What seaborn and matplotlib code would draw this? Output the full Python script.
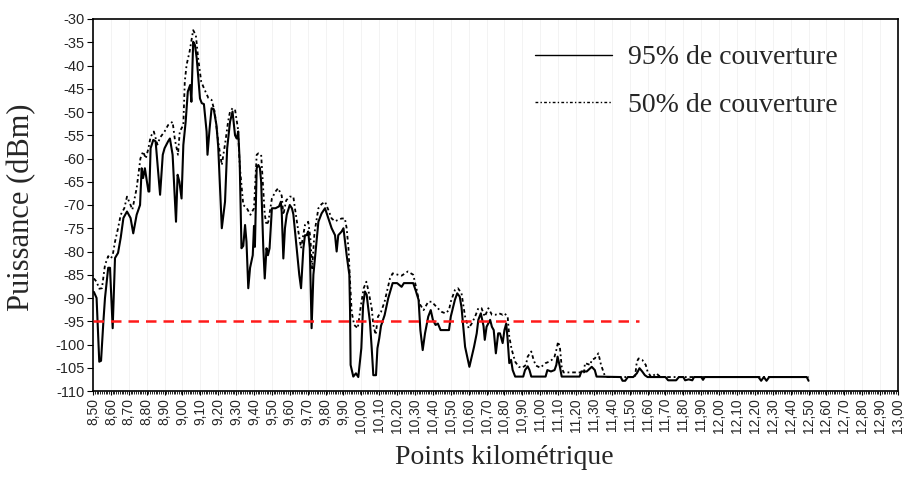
import numpy as np
import pandas as pd
import matplotlib
matplotlib.use("Agg")
import matplotlib.pyplot as plt
import seaborn as sns
from matplotlib.ticker import MultipleLocator, FixedLocator

# ---------------- data ----------------
km_95 = [8.505, 8.52, 8.535, 8.545, 8.558, 8.567, 8.585, 8.595, 8.61, 8.623, 8.64, 8.655, 8.67, 8.69,
         8.71, 8.725, 8.744, 8.763, 8.772, 8.78, 8.79, 8.81, 8.815, 8.822, 8.837, 8.85, 8.875, 8.89,
         8.90, 8.92, 8.93, 8.945, 8.964, 8.973, 8.983, 8.995, 9.005, 9.018, 9.03, 9.043, 9.05, 9.06,
         9.07, 9.08, 9.098, 9.108, 9.12, 9.135, 9.14, 9.152, 9.163, 9.175, 9.19, 9.20, 9.22, 9.238,
         9.25, 9.266, 9.28, 9.294, 9.303, 9.312, 9.32, 9.33, 9.34, 9.35, 9.358, 9.368, 9.378, 9.393,
         9.40, 9.405, 9.415, 9.424, 9.433, 9.44, 9.452, 9.46, 9.47, 9.478, 9.487, 9.50, 9.52, 9.54,
         9.55, 9.555, 9.564, 9.573, 9.583, 9.60, 9.612, 9.62, 9.63, 9.638, 9.653, 9.663, 9.676, 9.685,
         9.694, 9.703, 9.712, 9.722, 9.732, 9.746, 9.76, 9.778, 9.797, 9.815, 9.834, 9.853, 9.862,
         9.871, 9.89, 9.90, 9.918, 9.933, 9.937, 9.94, 9.955, 9.97, 9.983, 10.00, 10.01, 10.02, 10.03,
         10.038, 10.048, 10.058, 10.067, 10.082, 10.09, 10.10, 10.11, 10.13, 10.15, 10.175, 10.20,
         10.225, 10.238, 10.29, 10.305, 10.32, 10.33, 10.343, 10.356, 10.374, 10.388, 10.40, 10.415,
         10.428, 10.443, 10.49, 10.50, 10.523, 10.536, 10.55, 10.56, 10.57, 10.58, 10.592, 10.604,
         10.617, 10.63, 10.645, 10.654, 10.668, 10.683, 10.69, 10.70, 10.72, 10.73, 10.74, 10.745,
         10.752, 10.765, 10.775, 10.79, 10.80, 10.81, 10.818, 10.827, 10.837, 10.846, 10.86, 10.905,
         10.915, 10.93, 10.94, 10.95, 11.03, 11.04, 11.06, 11.08, 11.09, 11.097, 11.11, 11.12, 11.22,
         11.23, 11.26, 11.288, 11.305, 11.315, 11.45, 11.46, 11.475, 11.49, 11.52, 11.54, 11.555,
         11.57, 11.585, 11.60, 11.70, 11.715, 11.74, 11.76, 11.775, 11.80, 11.81, 11.83, 11.85, 11.86,
         11.90, 11.91, 11.92, 12.22, 12.235, 12.25, 12.265, 12.28, 12.49, 12.50]
p_95 = [-88.7, -90, -103.7, -103.5, -95.1, -90, -83.5, -83.5, -96.5, -81.4, -80.3, -77, -72.8, -71.4,
        -72.8, -76.1, -72.1, -70, -62.1, -64.2, -62.1, -67.1, -67.1, -57.8, -56, -56.3, -67.8, -59.2,
        -57.8, -56.3, -55.7, -59.2, -73.6, -63.5, -65, -68.6, -57.1, -52.1, -45.6, -44.2, -47.8, -34.9,
        -35.6, -38.5, -47.1, -48.1, -48.3, -54.2, -59.2, -53.5, -49.2, -49.4, -52.8, -57.5, -75, -69.3,
        -57.8, -52.1, -49.9, -55, -55.7, -54.2, -60.7, -79.3, -78.8, -74.3, -77.9, -87.9, -83.5, -80.8,
        -74.5, -79, -62.1, -61.4, -62, -65, -79.3, -85.8, -79.3, -80.8, -79.3, -70.7, -70.7, -70.3,
        -69.3, -71.5, -81.5, -75, -72.1, -70, -70.7, -72, -76, -79.3, -85, -87.9, -79.3, -76.5,
        -76.5, -75.7, -79.3, -96.5, -85, -79.3, -73.6, -71.8, -70.7, -72.8, -75, -76.5, -80,
        -76.5, -75.7, -75, -80.8, -85, -92.9, -104.4, -106.9, -106.2, -107, -100.8, -91.5, -88.6, -89.3,
        -92, -95.1, -100.8, -106.6, -106.6, -100.8, -98.7, -96, -93.7, -90.1, -86.8, -86.8,
        -87.6, -86.8, -86.8, -88.5, -90.4, -96.9, -101.2, -97.6, -94, -92.6, -94.7, -95.8,
        -95.5, -96.9, -96.9, -94, -90.4, -89, -89.7, -92, -96.2, -100.5, -102.6, -104.8,
        -102.6, -100.5, -97.6, -94.7, -93.3, -96, -99, -96.2, -94.7, -96.2, -96.9, -99,
        -101.9, -97.6, -97.6, -99.7, -96.9, -95.5, -99, -104, -103.3, -105.5, -106.9, -106.9,
        -105.5, -104.7, -105.5, -106.9, -106.9, -105.5, -105.8, -105.5, -104.4, -102.6, -104.8, -106.9, -106.9,
        -105.8, -105.8, -104.8, -105.5, -106.9, -107, -107.8, -107.8, -107, -107, -106.2, -105.1,
        -105.8, -106.6, -107, -107, -107.7, -107.7, -107.7, -107, -107, -107.7, -107.5, -107.7, -107,
        -107, -107.6, -107, -107, -107.8, -107, -107.8, -107, -107, -107.8]

km_50 = [8.505, 8.52, 8.535, 8.55, 8.567, 8.585, 8.60, 8.61, 8.623, 8.64, 8.655, 8.675, 8.69, 8.71,
         8.72, 8.744, 8.765, 8.78, 8.795, 8.81, 8.822, 8.84, 8.86, 8.875, 8.90, 8.92, 8.945, 8.958,
         8.975, 8.985, 9.005, 9.013, 9.023, 9.04, 9.06, 9.075, 9.088, 9.105, 9.125, 9.145, 9.163, 9.18,
         9.20, 9.22, 9.24, 9.255, 9.266, 9.28, 9.294, 9.31, 9.32, 9.34, 9.36, 9.38, 9.40, 9.415, 9.424,
         9.44, 9.452, 9.46, 9.47, 9.48, 9.50, 9.52, 9.535, 9.555, 9.564, 9.58, 9.60, 9.62, 9.63, 9.648,
         9.663, 9.685, 9.703, 9.715, 9.725, 9.738, 9.76, 9.778, 9.797, 9.815, 9.834, 9.853, 9.87, 9.89,
         9.908, 9.918, 9.928, 9.937, 9.946, 9.96, 9.98, 9.998, 10.013, 10.028, 10.04, 10.058, 10.067,
         10.08, 10.093, 10.11, 10.13, 10.16, 10.175, 10.205, 10.225, 10.26, 10.29, 10.31, 10.325,
         10.348, 10.374, 10.393, 10.41, 10.43, 10.45, 10.47, 10.49, 10.50, 10.523, 10.54, 10.56, 10.58,
         10.60, 10.617, 10.636, 10.654, 10.672, 10.69, 10.71, 10.73, 10.75, 10.77, 10.79, 10.80, 10.818,
         10.827, 10.84, 10.86, 10.88, 10.90, 10.92, 10.93, 10.95, 10.963, 10.975, 11.00, 11.03, 11.05,
         11.065, 11.08, 11.09, 11.10, 11.11, 11.12, 11.13, 11.20, 11.245, 11.25, 11.28, 11.288, 11.305,
         11.325, 11.34, 11.36, 11.375, 11.53, 11.54, 11.55, 11.57, 11.59, 11.60, 11.62, 11.65, 11.66,
         11.675, 12.50]
p_50 = [-85.8, -86.5, -88, -87.9, -82.9, -81, -81.5, -80.8, -77.9, -75, -72.1, -70.7, -68.2, -70,
        -71, -66.4, -60, -58.5, -60, -57.8, -55.3, -54.2, -57, -55.5, -54.2, -52.8, -52.1, -56,
        -59.2, -54.2, -52.8, -43.5, -39.9, -37, -32.4, -33.5, -38.5, -43.5, -45.3, -47, -47.4, -49.9,
        -56.4, -61.4, -56.4, -52.1, -49.9, -49.2, -49.5, -53.5, -61.4, -70, -70.7, -72.1, -70.7, -59.2, -58.9,
        -59.2, -67.1, -72, -74.3, -73.6, -68.6, -67.1, -66.4, -68, -72.1, -69, -68.2, -68.2, -71, -75.7,
        -79.3, -74.3, -73.6, -77, -83.6, -76, -70.7, -69.8, -69.3, -71, -72.9, -73.5, -73.2, -72.9,
        -72.9, -75, -79.3, -86.5, -93, -95.8, -96.5, -91.5, -87.9, -86.5, -88.5, -92.2, -95.8,
        -97.9, -94, -93, -90.8, -85.8, -84.7, -85, -85.2, -84.3, -85, -88.3, -91.2,
        -92.6, -90.8, -90.8, -91.5, -92.3, -93, -93.3, -92.6, -90.8, -88.3, -87.9, -89, -94,
        -96.5, -95.5, -94, -92.2, -92.2, -94, -92.2, -93.6, -93.6, -93.3, -93.6, -93.3, -94,
        -98.3, -101, -103.7, -104.8, -105, -104.4, -102.6, -101.5, -103.3, -104.5, -105, -104, -103.7,
        -103.3, -102.6, -101.2, -99.4, -100.6, -104.8, -106, -106, -106, -104, -104.4, -103.3, -103,
        -101.9, -104.4, -106.6, -107, -107, -103.7, -103, -103.3, -104.4, -105.8, -107, -106.2, -106.6,
        -107, -107]

threshold_dbm = -95
threshold_end_km = 11.55
series_labels = ["95% de couverture", "50% de couverture"]
x_ticks = [round(8.5 + 0.1 * i, 2) for i in range(46)]
x_tick_labels = [f"{v:.2f}".replace(".", ",") for v in x_ticks]
y_ticks = list(range(-30, -111, -5))

# ---------------- plot ----------------
sns.set_style("white")
plt.rcParams["font.family"] = ["Liberation Sans", "DejaVu Sans"]

fig = plt.figure(figsize=(9.08, 4.84), dpi=100)
ax = fig.add_axes([93 / 908, 1 - 391 / 484, (898 - 93) / 908, (391 - 19) / 484])

df95 = pd.DataFrame({"km": km_95, "p": p_95})
df50 = pd.DataFrame({"km": km_50, "p": p_50})

sns.lineplot(data=df95, x="km", y="p", ax=ax, color="black", linewidth=1.5,
             label=series_labels[0], estimator=None, sort=False, zorder=4)
sns.lineplot(data=df50, x="km", y="p", ax=ax, color="black", linewidth=1.3,
             linestyle=(0, (2.0, 1.6, 1.0, 1.6)), label=series_labels[1],
             estimator=None, sort=False, zorder=3)

ax.plot([x_ticks[0], threshold_end_km], [threshold_dbm, threshold_dbm], color="#ff1a1a",
        linewidth=1.8, linestyle=(0, (4.2, 2.8)), zorder=5)

ax.set_xlim(8.5, 13.0)
ax.set_ylim(-110, -30)
ax.xaxis.set_major_locator(FixedLocator(x_ticks))
ax.set_xticklabels(x_tick_labels, rotation=90, fontsize=10)
ax.xaxis.set_minor_locator(MultipleLocator(0.01))
ax.set_yticks(y_ticks)
ax.set_yticklabels([str(v) for v in y_ticks], fontsize=10.5)

ax.tick_params(axis="x", which="both", bottom=True)
ax.tick_params(axis="y", which="both", left=True)
ax.tick_params(axis="x", which="major", direction="out", length=3, width=0.8, pad=2, color="black")
ax.tick_params(axis="x", which="minor", direction="out", length=2.5, width=0.6, color="black")
ax.tick_params(axis="y", which="major", direction="out", length=4, width=0.8, pad=2, color="black")

ax.grid(True, axis="x", which="major", color="#f3f3f3", linewidth=0.7, zorder=0)
ax.grid(False, axis="y")
for s in ax.spines.values():
    s.set_visible(True)
    s.set_color("black")
    s.set_linewidth(1.2)

ax.set_xlabel("")
ax.set_ylabel("")
fig.text(0.555, 1 - 458 / 484, "Points kilométrique", family="Liberation Serif",
         fontsize=20, ha="center", va="center")
fig.text(22 / 908, 1 - 207 / 484, "Puissance (dBm)", family="Liberation Serif",
         fontsize=22, ha="center", va="center", rotation=90)

leg = ax.legend(loc="upper right", bbox_to_anchor=(838 / 908, 1 - 45 / 484),
                bbox_transform=fig.transFigure, frameon=False,
                prop={"family": "Liberation Serif", "size": 20},
                handlelength=2.75, handletextpad=0.6, labelspacing=0.78,
                borderpad=0, borderaxespad=0)
for h in leg.get_lines():
    h.set_linewidth(1.0)

fig.savefig("out.png", dpi=100)
